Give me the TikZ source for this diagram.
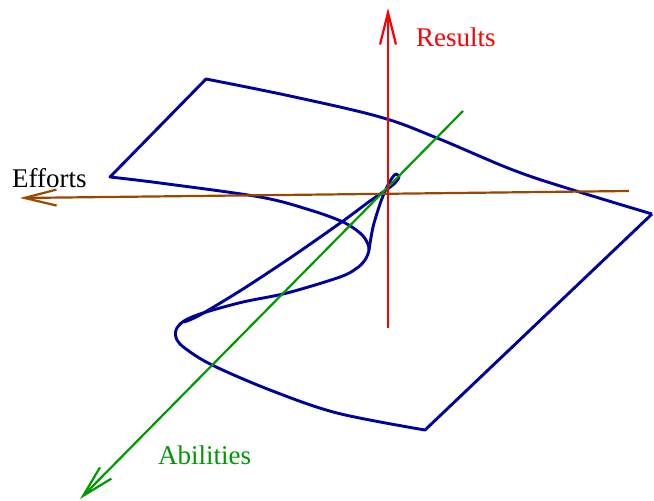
\documentclass[tikz,border=0pt]{standalone}
\usepackage{fontspec}
\setmainfont{Liberation Serif}
\usepackage{tikz}
\usetikzlibrary{arrows.meta, calc, positioning}
\definecolor{flaeche}{HTML}{00009C}
\definecolor{ergebnis}{HTML}{FF0000}
\definecolor{faehig}{HTML}{009900}
\definecolor{aufwand}{HTML}{994A00}

\begin{document}
\begin{tikzpicture}[
        x=1pt, y=-1pt,
        every node/.style={font=\fontsize{27}{32}\selectfont, inner sep=0pt},
        achse/.style={line width=2.2pt, -{Straight Barb[length=32pt, width=16pt, line width=2.2pt]}},
        rand/.style={line width=2.9pt, flaeche, line join=round},
      ]
      \useasboundingbox (0,0) rectangle (654,501);

      % Faltenflaeche: Umriss
      \draw[rand]
        plot[smooth, tension=0.6] coordinates {(652,214) (573,190) (513,170) (437,138)
          (380,117) (290,96) (206,79)}
        -- plot[smooth, tension=0.55] coordinates {(110,177) (160,183) (260,197) (310,210)
          (343,222) (360,233) (367,242) (369,250) (365,260) (357,268) (340,277)
          (287,293) (243,302) (203,313) (184,321) (176,330) (177,340) (186,349)
          (212,365) (270,390) (337,413) (425,430)}
        -- (652,214);

      % Faltenkante mit Spitze
      \draw[rand]
        plot[smooth, tension=0.5] coordinates {(369,250) (373,227) (380,204) (386,189)
          (392,178) (396,174) (399,177) (395,183) (386,190) (370,201) (343,221)
          (293,256) (243,289) (200,315) (184,322)};

      % Achsen
      \coordinate (ergUnten) at (388,328);
      \coordinate (ergOben) at (388,8);
      \coordinate (aufRechts) at (629,191);
      \coordinate (aufLinks) at (20,198);
      \coordinate (faeOben) at (463,111);
      \coordinate (faeUnten) at (80,499);
      \draw[achse, aufwand] (aufRechts) -- (aufLinks);
      \draw[achse, faehig] (faeOben) -- (faeUnten);
      \draw[achse, ergebnis] (ergUnten) -- (ergOben);

      \node[anchor=base west] (efforts) at (12,187) {Efforts};
      \node[anchor=base west, ergebnis] (results) at (416,46) {Results};
      \node[anchor=base west, faehig] (abilities) at (158,464) {Abilities};
    \end{tikzpicture}
\end{document}
